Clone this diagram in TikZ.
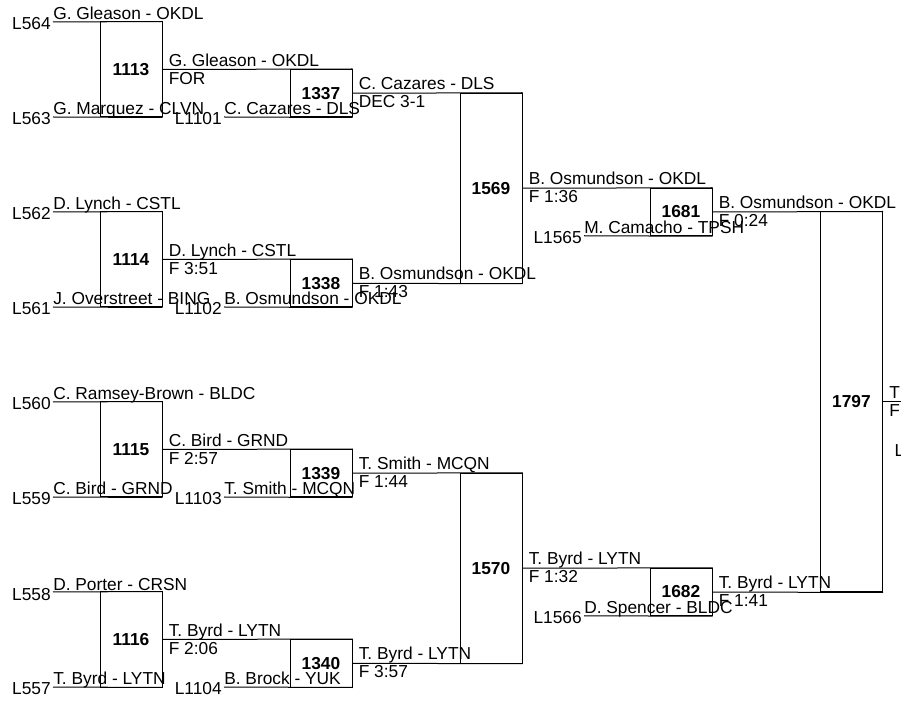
\documentclass[tikz,border=0pt]{standalone}
\usepackage{fontspec}
\setmainfont{Liberation Sans}
\usetikzlibrary{positioning}

\begin{document}
\begin{tikzpicture}[
  x=0.75pt, y=-0.75pt,
  every node/.style={font=\fontsize{13}{15}\selectfont},
  bout/.style={draw, line width=0.75pt, minimum width=46.5pt, inner sep=0pt, font=\fontsize{13}{15}\selectfont\bfseries},
  rA/.style={bout, minimum height=71.25pt},
  rB/.style={bout, minimum height=35.625pt},
  rC/.style={bout, minimum height=142.5pt},
  rD/.style={bout, minimum height=285pt},
  wire/.style={line width=0.75pt},
  entrant/.style={anchor=base west, inner sep=0pt, yshift=1.5pt},
  seedlbl/.style={anchor=base east, inner sep=0pt, xshift=-1.5pt, yshift=-6pt},
  winner/.style={anchor=base west, inner sep=0pt, xshift=4.5pt, yshift=2.6pt},
  result/.style={anchor=base west, inner sep=0pt, xshift=4.5pt, yshift=-10.9pt}
]
\useasboundingbox (0,0) rectangle (901,702);

% Bouts
\node[rA] (m1113) at (131,69.5) {1113};
\node[rA] (m1114) at (131,259.5) {1114};
\node[rA] (m1115) at (131,449.5) {1115};
\node[rA] (m1116) at (131,639.5) {1116};
\node[rB] (m1337) at (321,93.25) {1337};
\node[rB] (m1338) at (321,283.25) {1338};
\node[rB] (m1339) at (321,473.25) {1339};
\node[rB] (m1340) at (321,663.25) {1340};
\node[rC] (m1569) at (491,188.25) {1569};
\node[rC] (m1570) at (491,568.25) {1570};
\node[rB] (m1681) at (681,212) {1681};
\node[rB] (m1682) at (681,592) {1682};
\node[rD] (m1797) at (851.5,402) {1797};

% Entry points
\coordinate (c564) at (53,22);
\coordinate (c563) at (53,117);
\coordinate (c562) at (53,212);
\coordinate (c561) at (53,307);
\coordinate (c560) at (53,402);
\coordinate (c559) at (53,497);
\coordinate (c558) at (53,592);
\coordinate (c557) at (53,687);
\coordinate (c1101) at (224,117);
\coordinate (c1102) at (224,307);
\coordinate (c1103) at (224,497);
\coordinate (c1104) at (224,687);
\coordinate (c1565) at (584,235.75);
\coordinate (c1566) at (584,615.75);
\coordinate (cout) at (912,402);

% Lines
\draw[wire] (c564) -- (m1113.north east);
\draw[wire] (c563) -- (m1113.south east);
\draw[wire] (c562) -- (m1114.north east);
\draw[wire] (c561) -- (m1114.south east);
\draw[wire] (c560) -- (m1115.north east);
\draw[wire] (c559) -- (m1115.south east);
\draw[wire] (c558) -- (m1116.north east);
\draw[wire] (c557) -- (m1116.south east);
\draw[wire] (m1113.east) -- (m1337.north east);
\draw[wire] (c1101) -- (m1337.south east);
\draw[wire] (m1114.east) -- (m1338.north east);
\draw[wire] (c1102) -- (m1338.south east);
\draw[wire] (m1115.east) -- (m1339.north east);
\draw[wire] (c1103) -- (m1339.south east);
\draw[wire] (m1116.east) -- (m1340.north east);
\draw[wire] (c1104) -- (m1340.south east);
\draw[wire] (m1337.east) -- (m1569.north east);
\draw[wire] (m1338.east) -- (m1569.south east);
\draw[wire] (m1339.east) -- (m1570.north east);
\draw[wire] (m1340.east) -- (m1570.south east);
\draw[wire] (m1569.east) -- (m1681.north east);
\draw[wire] (c1565) -- (m1681.south east);
\draw[wire] (m1570.east) -- (m1682.north east);
\draw[wire] (c1566) -- (m1682.south east);
\draw[wire] (m1681.east) -- (m1797.north east);
\draw[wire] (m1682.east) -- (m1797.south east);
\draw[wire] (m1797.east) -- (cout);

% Seeds and entrants
\node[seedlbl] (l564) at (c564) {L564};
\node[entrant] (p564) at (c564) {G. Gleason - OKDL};
\node[seedlbl] (l563) at (c563) {L563};
\node[entrant] (p563) at (c563) {G. Marquez - CLVN};
\node[seedlbl] (l562) at (c562) {L562};
\node[entrant] (p562) at (c562) {D. Lynch - CSTL};
\node[seedlbl] (l561) at (c561) {L561};
\node[entrant] (p561) at (c561) {J. Overstreet - BING};
\node[seedlbl] (l560) at (c560) {L560};
\node[entrant] (p560) at (c560) {C. Ramsey-Brown - BLDC};
\node[seedlbl] (l559) at (c559) {L559};
\node[entrant] (p559) at (c559) {C. Bird - GRND};
\node[seedlbl] (l558) at (c558) {L558};
\node[entrant] (p558) at (c558) {D. Porter - CRSN};
\node[seedlbl] (l557) at (c557) {L557};
\node[entrant] (p557) at (c557) {T. Byrd - LYTN};
\node[seedlbl] (l1101) at (c1101) {L1101};
\node[entrant] (p1101) at (c1101) {C. Cazares - DLS};
\node[seedlbl] (l1102) at (c1102) {L1102};
\node[entrant] (p1102) at (c1102) {B. Osmundson - OKDL};
\node[seedlbl] (l1103) at (c1103) {L1103};
\node[entrant] (p1103) at (c1103) {T. Smith - MCQN};
\node[seedlbl] (l1104) at (c1104) {L1104};
\node[entrant] (p1104) at (c1104) {B. Brock - YUK};
\node[seedlbl] (l1565) at (c1565) {L1565};
\node[entrant] (p1565) at (c1565) {M. Camacho - TPSH};
\node[seedlbl] (l1566) at (c1566) {L1566};
\node[entrant] (p1566) at (c1566) {D. Spencer - BLDC};

% Winners and results
\node[winner] (w1113) at (m1113.east) {G. Gleason - OKDL};
\node[result] (r1113) at (m1113.east) {FOR};
\node[winner] (w1114) at (m1114.east) {D. Lynch - CSTL};
\node[result] (r1114) at (m1114.east) {F 3:51};
\node[winner] (w1115) at (m1115.east) {C. Bird - GRND};
\node[result] (r1115) at (m1115.east) {F 2:57};
\node[winner] (w1116) at (m1116.east) {T. Byrd - LYTN};
\node[result] (r1116) at (m1116.east) {F 2:06};
\node[winner] (w1337) at (m1337.east) {C. Cazares - DLS};
\node[result] (r1337) at (m1337.east) {DEC 3-1};
\node[winner] (w1338) at (m1338.east) {B. Osmundson - OKDL};
\node[result] (r1338) at (m1338.east) {F 1:43};
\node[winner] (w1339) at (m1339.east) {T. Smith - MCQN};
\node[result] (r1339) at (m1339.east) {F 1:44};
\node[winner] (w1340) at (m1340.east) {T. Byrd - LYTN};
\node[result] (r1340) at (m1340.east) {F 3:57};
\node[winner] (w1569) at (m1569.east) {B. Osmundson - OKDL};
\node[result] (r1569) at (m1569.east) {F 1:36};
\node[winner] (w1570) at (m1570.east) {T. Byrd - LYTN};
\node[result] (r1570) at (m1570.east) {F 1:32};
\node[winner] (w1681) at (m1681.east) {B. Osmundson - OKDL};
\node[result] (r1681) at (m1681.east) {F 0:24};
\node[winner] (w1682) at (m1682.east) {T. Byrd - LYTN};
\node[result] (r1682) at (m1682.east) {F 1:41};
\node[winner] (w1797) at (m1797.east) {T};
\node[result] (r1797) at (m1797.east) {F};
\node[anchor=base west, inner sep=0pt] (l1797) at ([xshift=8.6pt, yshift=-41.25pt]m1797.east) {L};
\end{tikzpicture}
\end{document}
